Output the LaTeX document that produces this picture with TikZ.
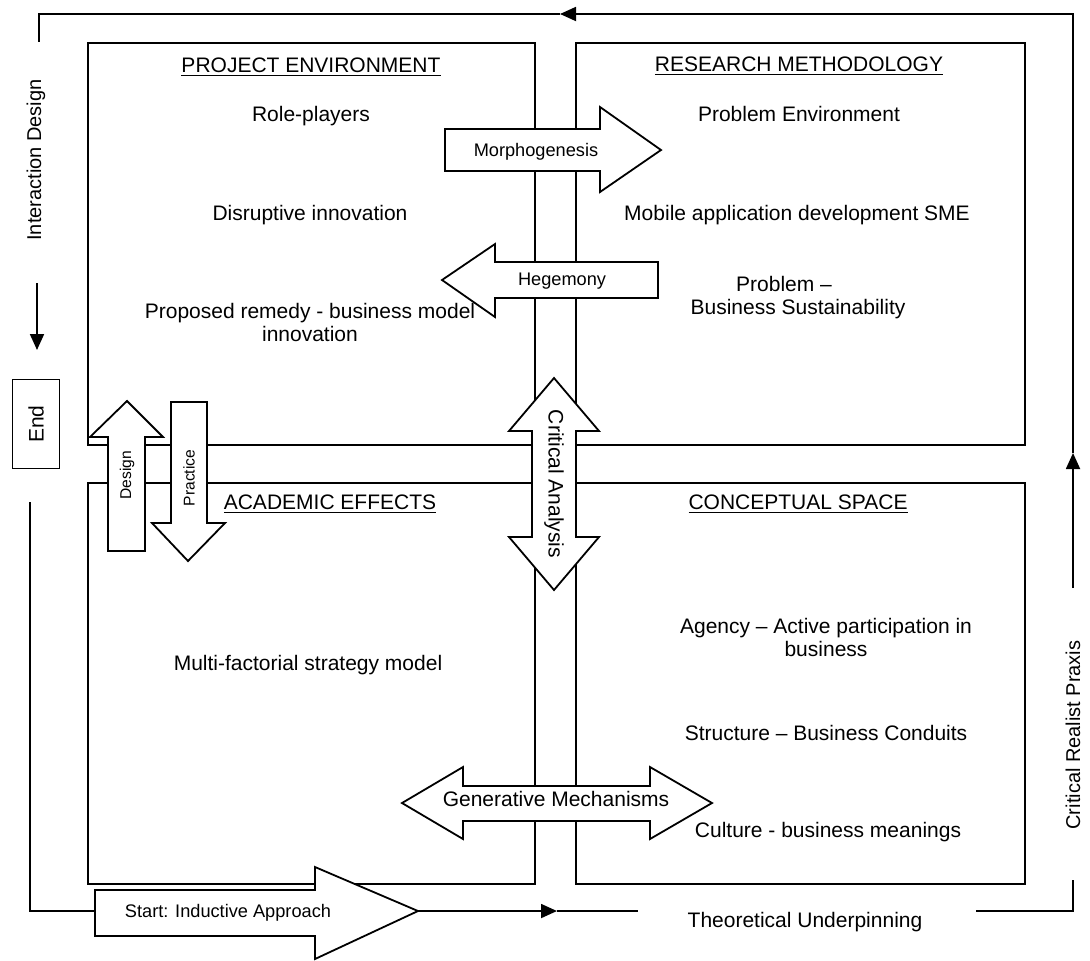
\documentclass[tikz,border=0pt]{standalone}
\usepackage{fontspec}
\setmainfont{Liberation Sans}
\usetikzlibrary{arrows.meta}

\begin{document}
\begin{tikzpicture}[x=.5pt,y=-.5pt,line width=.9pt,
		lbl/.style={font=\fontsize{10.5}{11.5}\selectfont,inner sep=0pt},
		arrlbl/.style={font=\fontsize{9.1}{10}\selectfont,inner sep=0pt},
		sidelbl/.style={font=\fontsize{10}{11}\selectfont,inner sep=0pt,rotate=90},
		wee/.style={font=\fontsize{7.8}{9}\selectfont,inner sep=0pt},
		blk/.style={draw,fill=white},
		flow/.style={-{Triangle[length=8pt,width=7pt]}}]
	\useasboundingbox (0,0) rectangle (1090,960);

	% the four quadrants
	\draw (88,43) rectangle (535,445);
	\draw (576,43) rectangle (1025,445);
	\draw (88,483) rectangle (535,884);
	\draw (576,483) rectangle (1025,884);

	% block arrows
	\draw[blk] (445,129) -- (600,129) -- (600,107) -- (661,150)
		-- (600,192) -- (600,171) -- (445,171) -- cycle;
	\draw[blk] (658,262) -- (495,262) -- (495,244) -- (442,280)
		-- (495,317) -- (495,298) -- (658,298) -- cycle;
	\draw[blk] (554,378) -- (599,431) -- (576,431) -- (576,537) -- (599,537)
		-- (554,590) -- (509,537) -- (532,537) -- (532,431) -- (509,431) -- cycle;
	\draw[blk] (127,401) -- (163,437) -- (145,437) -- (145,551)
		-- (108,551) -- (108,437) -- (90,437) -- cycle;
	\draw[blk] (171,402) -- (207,402) -- (207,523) -- (225,523)
		-- (188,561) -- (152,523) -- (171,523) -- cycle;
	\draw[blk] (402,803) -- (463,767) -- (463,786) -- (650,786) -- (650,767)
		-- (712,803) -- (650,839) -- (650,821) -- (463,821) -- (463,839) -- cycle;
	\draw[blk] (95,890) -- (315,890) -- (315,867) -- (418,911)
		-- (315,959) -- (315,936) -- (95,936) -- cycle;

	\node[arrlbl] (morph) at (536,152) {Morphogenesis};
	\node[arrlbl] (hege) at (562,281) {Hegemony};
	\node[lbl,rotate=-90] (crit) at (554,484) {Critical Analysis};
	\node[wee,rotate=90] (design) at (127,475) {Design};
	\node[wee,rotate=90] (practice) at (189,478) {Practice};
	\node[lbl] (gen) at (556,799) {Generative Mechanisms};
	\node[arrlbl] (start) at (228,913) {Start: Inductive Approach};

	% project environment
	\node[lbl,anchor=base] (pe) at (311,72) {\underline{PROJECT ENVIRONMENT}};
	\node[lbl,anchor=base] (roles) at (311,121) {Role-players};
	\node[lbl,anchor=base] (disrupt) at (310,220) {Disruptive innovation};
	\node[lbl,align=center] (remedy) at (310,322)
		{Proposed remedy - business model\\innovation};

	% research methodology
	\node[lbl,anchor=base] (rm) at (799,71) {\underline{RESEARCH METHODOLOGY}};
	\node[lbl,anchor=base] (probenv) at (799,121) {Problem Environment};
	\node[lbl,anchor=base] (mobile) at (797,220) {Mobile application development SME};
	\node[lbl,align=center] (sustain) at (798,298)
		{Problem –\hspace*{14pt}\\Business Sustainability};

	% academic effects
	\node[lbl,anchor=base] (ae) at (330,509) {\underline{ACADEMIC EFFECTS}};
	\node[lbl,anchor=base] (multi) at (308,670) {Multi-factorial strategy model};

	% conceptual space
	\node[lbl,anchor=base] (cs) at (798,509) {\underline{CONCEPTUAL SPACE}};
	\node[lbl,align=center] (agency) at (826,637)
		{Agency – Active participation in\\business};
	\node[lbl,anchor=base] (struct) at (826,740) {Structure – Business Conduits};
	\node[lbl,anchor=base] (culture) at (828,837) {Culture - business meanings};

	% outer loop
	\coordinate (starttail) at (95,911);
	\coordinate (starttip) at (418,911);
	\coordinate (m-bot) at (557,911);
	\coordinate (tu-l) at (638,911);
	\node[lbl,anchor=base] (under) at (805,927) {Theoretical Underpinning};
	\coordinate (tu-r) at (976,911);
	\coordinate (c-br) at (1073,911);
	\coordinate (crp-b) at (1073,880);
	\node[sidelbl] (praxis) at (1073,735) {Critical Realist Praxis};
	\coordinate (crp-t) at (1073,588);
	\coordinate (m-right) at (1073,453);
	\coordinate (c-tr) at (1073,14);
	\coordinate (m-top) at (560,14);
	\coordinate (c-tl) at (39,14);
	\coordinate (id-t) at (39,42);
	\node[sidelbl] (inter) at (36,160) {Interaction Design};
	\coordinate (down-s) at (37,283);
	\coordinate (down-e) at (37,350);
	\node[lbl,draw,rotate=90,minimum width=44.5pt,minimum height=23.5pt]
		(end) at (36,424) {End};
	\coordinate (bl-t) at (30,502);
	\coordinate (c-bl) at (30,911);

	\draw (bl-t) -- (c-bl) -- (starttail);
	\draw[flow] (starttip) -- (m-bot);
	\draw (m-bot) -- (tu-l);
	\draw (tu-r) -- (c-br) -- (crp-b);
	\draw[flow] (crp-t) -- (m-right);
	\draw[flow] (m-right) -- (c-tr) -- (m-top);
	\draw (m-top) -- (c-tl) -- (id-t);
	\draw[flow] (down-s) -- (down-e);
\end{tikzpicture}
\end{document}
